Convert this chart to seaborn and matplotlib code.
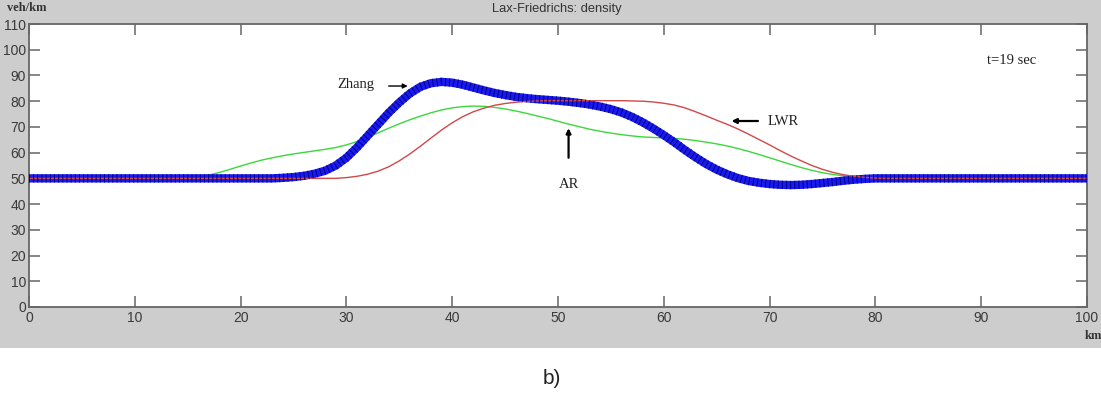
import numpy as np
import pandas as pd
import matplotlib
matplotlib.use("Agg")
import matplotlib.pyplot as plt
import seaborn as sns
from matplotlib.patches import Rectangle

# position along the road (km)
km = [0, 5, 10] + list(range(14, 83)) + [85, 90, 95, 100]

# density (veh/km) at t = 19 s
zhang = [50, 50, 50,
         50, 50, 50, 50, 50, 50, 50, 50, 50, 50,
         50.2, 50.5, 51, 51.8, 53, 55, 58, 62, 66.5, 71,
         75.5, 79.5, 83, 85.6, 87, 87.5, 87.2, 86.4, 85.3, 84.2,
         83.2, 82.4, 81.7, 81.2, 80.8, 80.5, 80.2, 79.8, 79.3, 78.7,
         77.9, 76.9, 75.6, 73.9, 71.8, 69.4, 66.8, 64, 61, 58.2,
         55.6, 53.4, 51.6, 50.1, 49, 48.3, 47.8, 47.5, 47.4, 47.5,
         47.8, 48.2, 48.6, 49.1, 49.5, 49.8, 50, 50, 50,
         50, 50, 50, 50]

lwr = [50, 50, 50,
       50, 50, 50, 50, 50, 50, 50, 50, 50, 50,
       50, 50, 50, 50, 50, 50, 50.3, 50.8, 51.6, 52.8,
       54.5, 56.8, 59.5, 62.5, 65.7, 68.8, 71.6, 74, 75.9, 77.3,
       78.4, 79.1, 79.6, 79.9, 80.1, 80.2, 80.2, 80.2, 80.2, 80.2,
       80.2, 80.2, 80.2, 80.1, 80, 79.7, 79.2, 78.5, 77.4, 75.9,
       74.3, 72.6, 71, 69.2, 67.2, 65.1, 63, 60.8, 58.7, 56.8,
       55, 53.5, 52.3, 51.4, 50.8, 50.4, 50.1, 50, 50,
       50, 50, 50, 50]

ar = [50, 50, 50,
      50, 50.2, 50.6, 51.3, 52.3, 53.5, 54.8, 56, 57.1, 58,
      58.8, 59.5, 60.1, 60.7, 61.3, 62, 63, 64.3, 65.9, 67.7,
      69.5, 71.2, 72.8, 74.2, 75.5, 76.6, 77.4, 77.9, 78.1, 78,
      77.6, 77, 76.2, 75.3, 74.3, 73.3, 72.2, 71.1, 70.1, 69.1,
      68.3, 67.6, 67, 66.5, 66.1, 65.9, 65.7, 65.5, 65.2, 64.7,
      64.1, 63.4, 62.6, 61.6, 60.5, 59.3, 58, 56.7, 55.4, 54.2,
      53.1, 52.2, 51.5, 51, 50.6, 50.3, 50.1, 50, 50,
      50, 50, 50, 50]

x_ticks = list(range(0, 101, 10))
y_ticks = list(range(0, 111, 10))

df = pd.DataFrame({"km": km, "Zhang": zhang, "LWR": lwr, "AR": ar})

sns.set_style("white")
plt.rcParams["font.family"] = ["Liberation Sans", "DejaVu Sans"]

fig = plt.figure(figsize=(11.01, 3.99), dpi=100, facecolor="white")
# grey matlab-style window background
fig.patches.append(Rectangle((0, 0.128), 1, 0.872, transform=fig.transFigure,
                             facecolor="#cdcdcd", edgecolor="none", zorder=-10))
ax = fig.add_axes([0.0263, 0.2306, 0.9610, 0.7092])
ax.set_facecolor("white")

# AR under the blue band, LWR shows through the marker gaps
sns.lineplot(data=df, x="km", y="AR", ax=ax, color="#3ad83a", lw=1.0, zorder=2)
sns.lineplot(data=df, x="km", y="Zhang", ax=ax, color="#1a1aee", lw=6, zorder=3)
sns.lineplot(data=df, x="km", y="LWR", ax=ax, color="#d04848", lw=1.0, zorder=4)
sns.lineplot(data=df, x="km", y="Zhang", ax=ax, color="#00008c", lw=6, zorder=5)
ax.lines[-1].set_dashes((0.12, 0.38))

ax.set_xlim(0, 100)
ax.set_ylim(0, 110)
ax.set_xticks(x_ticks)
ax.set_yticks(y_ticks)
ax.set_xlabel("")
ax.set_ylabel("")
spine_col = "#666666"
for s in ax.spines.values():
    s.set_visible(True)
    s.set_color(spine_col)
    s.set_linewidth(1.3)
ax.tick_params(axis="both", direction="in", length=8, width=1.1, color=spine_col,
               labelsize=10, labelcolor="#3a3a3a", top=True, right=True,
               bottom=True, left=True, labeltop=False, labelright=False)
ax.tick_params(axis="x", pad=3)
ax.tick_params(axis="y", pad=2)

fig.text(0.506, 0.977, "Lax-Friedrichs: density", ha="center", va="center",
         fontsize=9.3, color="#333333")
fig.text(0.006, 0.981, "veh/km", ha="left", va="center", fontsize=9,
         fontweight="bold", family="Liberation Serif", color="#333333")
fig.text(0.985, 0.157, "km", ha="left", va="center", fontsize=9,
         fontweight="bold", family="Liberation Serif", color="#333333")
fig.text(0.501, 0.052, "b)", ha="center", va="center", fontsize=15, color="#222222")

serif = dict(family="Liberation Serif", fontsize=10.5, color="#222222")
arrow = dict(arrowstyle="-|>", color="black", lw=1.0, mutation_scale=7,
             shrinkA=0, shrinkB=0)
ax.text(30.9, 86.3, "Zhang", ha="center", va="center", **serif)
ax.annotate("", xy=(35.8, 85.9), xytext=(34.0, 85.9), arrowprops=arrow)
ax.text(69.8, 72.3, "LWR", ha="left", va="center", **serif)
ax.annotate("", xy=(66.4, 72.3), xytext=(68.9, 72.3),
            arrowprops=dict(arrow, lw=1.6))
ax.text(51.0, 47.5, "AR", ha="center", va="center", **serif)
ax.annotate("", xy=(51.0, 69.5), xytext=(51.0, 58.0),
            arrowprops=dict(arrow, lw=1.6))
ax.text(92.9, 96.0, "t=19 sec", ha="center", va="center", **serif)

fig.savefig("out.png", dpi=100, facecolor=fig.get_facecolor())
